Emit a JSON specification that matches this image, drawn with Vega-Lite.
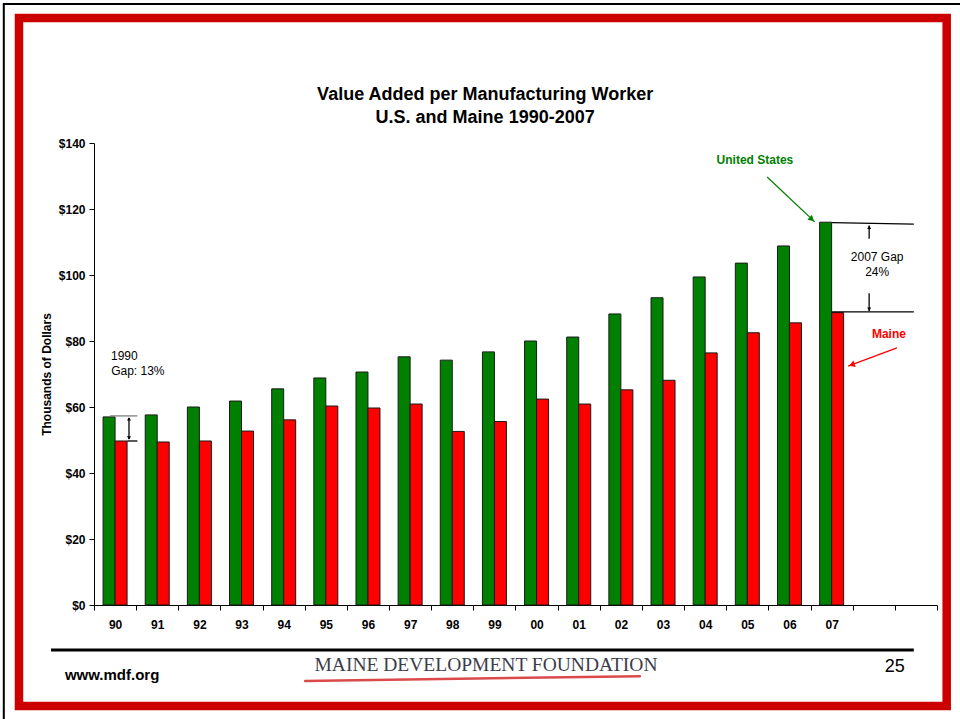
{
  "$schema": "https://vega.github.io/schema/vega-lite/v6.json",
  "width": 843,
  "height": 462,
  "autosize": {"type": "none"},
  "padding": {"left": 94, "top": 143, "right": 23, "bottom": 114},
  "background": "white",
  "config": {
    "view": {"stroke": null},
    "font": "Liberation Sans, Arial, sans-serif",
    "axis": {"domainColor": "black", "tickColor": "black", "labelColor": "black", "titleColor": "black", "grid": false}
  },
  "datasets": {
    "bars": [
      {"year": "90", "series": "United States", "value": 57.0},
      {"year": "90", "series": "Maine", "value": 49.7},
      {"year": "91", "series": "United States", "value": 57.6},
      {"year": "91", "series": "Maine", "value": 49.4},
      {"year": "92", "series": "United States", "value": 60.0},
      {"year": "92", "series": "Maine", "value": 49.7},
      {"year": "93", "series": "United States", "value": 61.8},
      {"year": "93", "series": "Maine", "value": 52.7},
      {"year": "94", "series": "United States", "value": 65.5},
      {"year": "94", "series": "Maine", "value": 56.1},
      {"year": "95", "series": "United States", "value": 68.8},
      {"year": "95", "series": "Maine", "value": 60.3},
      {"year": "96", "series": "United States", "value": 70.6},
      {"year": "96", "series": "Maine", "value": 59.7},
      {"year": "97", "series": "United States", "value": 75.2},
      {"year": "97", "series": "Maine", "value": 60.9},
      {"year": "98", "series": "United States", "value": 74.2},
      {"year": "98", "series": "Maine", "value": 52.6},
      {"year": "99", "series": "United States", "value": 76.7},
      {"year": "99", "series": "Maine", "value": 55.6},
      {"year": "00", "series": "United States", "value": 80.0},
      {"year": "00", "series": "Maine", "value": 62.4},
      {"year": "01", "series": "United States", "value": 81.2},
      {"year": "01", "series": "Maine", "value": 60.9},
      {"year": "02", "series": "United States", "value": 88.2},
      {"year": "02", "series": "Maine", "value": 65.2},
      {"year": "03", "series": "United States", "value": 93.1},
      {"year": "03", "series": "Maine", "value": 68.1},
      {"year": "04", "series": "United States", "value": 99.4},
      {"year": "04", "series": "Maine", "value": 76.4},
      {"year": "05", "series": "United States", "value": 103.6},
      {"year": "05", "series": "Maine", "value": 82.5},
      {"year": "06", "series": "United States", "value": 108.8},
      {"year": "06", "series": "Maine", "value": 85.5},
      {"year": "07", "series": "United States", "value": 116.0},
      {"year": "07", "series": "Maine", "value": 88.6}
    ],
    "rules": [
      {"v": 15.97, "v2": 17.1, "y": 129.7, "y2": 116.1, "series": "United States"},
      {"v": 19.05, "v2": 17.89, "y": 77.9, "y2": 72.4, "series": "Maine"},
      {"v": 17.51, "v2": 19.45, "y": 115.9, "y2": 115.4, "series": "Gap"},
      {"v": 17.51, "v2": 19.45, "y": 88.8, "y2": 88.8, "series": "Gap"},
      {"v": 18.39, "v2": 18.39, "y": 115.0, "y2": 111.0, "series": "Gap"},
      {"v": 18.39, "v2": 18.39, "y": 94.5, "y2": 89.1, "series": "Gap"},
      {"v": 0.38, "v2": 1.03, "y": 57.3, "y2": 57.3, "series": "Guide"},
      {"v": 0.79, "v2": 1.03, "y": 49.7, "y2": 49.7, "series": "Gap"},
      {"v": 0.83, "v2": 0.83, "y": 56.7, "y2": 50.3, "series": "Gap"}
    ],
    "heads": [
      {"v": 17.03, "y": 116.9, "series": "United States", "head": "us"},
      {"v": 17.98, "y": 72.8, "series": "Maine", "head": "maine"},
      {"v": 18.39, "y": 114.5, "series": "Gap", "head": "up"},
      {"v": 18.39, "y": 89.6, "series": "Gap", "head": "down"},
      {"v": 0.83, "y": 56.4, "series": "Gap", "head": "up"},
      {"v": 0.83, "y": 50.6, "series": "Gap", "head": "down"}
    ],
    "notes": [
      {"v": 15.68, "y": 134.8, "label": "United States", "series": "United States", "role": "bold"},
      {"v": 18.86, "y": 82.1, "label": "Maine", "series": "Maine", "role": "bold"},
      {"v": 18.58, "y": 105.5, "label": "2007 Gap", "series": "Gap", "role": "normal"},
      {"v": 18.58, "y": 100.9, "label": "24%", "series": "Gap", "role": "normal"},
      {"v": 0.72, "y": 75.5, "label": "1990", "series": "Gap", "role": "normal"},
      {"v": 1.04, "y": 70.9, "label": "Gap: 13%", "series": "Gap", "role": "normal"}
    ],
    "titles": [
      {"v": 9.28, "y": 153.0, "label": "Value Added per Manufacturing Worker"},
      {"v": 9.28, "y": 146.0, "label": "U.S. and Maine 1990-2007"}
    ],
    "footer": [
      {"v": 0.43, "y": -21.2, "label": "www.mdf.org", "role": "url"},
      {"v": 9.3, "y": -18.2, "label": "MAINE DEVELOPMENT FOUNDATION", "role": "logo"},
      {"v": 19.0, "y": -18.8, "label": "25", "role": "page"}
    ],
    "frames": [
      {"v": -1.78, "v2": 20.23, "y": 177.9, "y2": -30.6, "role": "red"},
      {"v": -2.14, "v2": 24, "y": 182.1, "y2": -45, "role": "black"}
    ],
    "footlines": [
      {"v": -1.02, "v2": 19.45, "y": -13.6, "y2": -13.6, "role": "line"},
      {"v": 5.01, "v2": 12.95, "y": -23.0, "y2": -21.6, "role": "swoosh"}
    ]
  },
  "resolve": {"scale": {"x": "independent", "y": "independent"}, "axis": {"x": "independent", "y": "independent"}},
  "layer": [
    {
      "data": {"name": "bars"},
      "mark": {"type": "bar", "stroke": "#1a1a1a", "strokeWidth": 1},
      "encoding": {
        "x": {
          "field": "year", "type": "nominal", "sort": null,
          "scale": {"domain": ["90","91","92","93","94","95","96","97","98","99","00","01","02","03","04","05","06","07","x1","x2"], "paddingInner": 0, "paddingOuter": 0},
          "axis": {"title": null, "labelAngle": 0, "labelExpr": "indexof(datum.label, 'x') >= 0 ? '' : datum.label", "tickBand": "extent", "tickSize": 5, "labelPadding": 9, "labelFontSize": 12, "labelFontWeight": "bold", "labelFont": "Liberation Sans, Arial, sans-serif"}
        },
        "xOffset": {"field": "series", "type": "nominal", "sort": null, "scale": {"domain": ["United States", "Maine"], "paddingInner": 0, "paddingOuter": 0.756}},
        "y": {
          "field": "value", "type": "quantitative",
          "scale": {"domain": [0, 140], "nice": false},
          "axis": {"title": "Thousands of Dollars", "values": [0, 20, 40, 60, 80, 100, 120, 140], "labelExpr": "'$' + datum.value", "tickSize": 5, "labelPadding": 4, "labelFontSize": 12, "labelFontWeight": "bold", "titleFontSize": 12, "titleFontWeight": "bold", "titlePadding": 5, "labelFont": "Liberation Sans, Arial, sans-serif", "titleFont": "Liberation Sans, Arial, sans-serif"}
        },
        "color": {"field": "series", "type": "nominal", "scale": {"domain": ["United States", "Maine", "Gap", "Guide"], "range": ["#008000", "#ff0000", "#000000", "#808080"]}, "legend": null}
      }
    },
    {
      "data": {"name": "titles"},
      "mark": {"type": "text", "fontSize": 18, "fontWeight": "bold", "font": "Liberation Sans, Arial, sans-serif", "align": "center", "baseline": "alphabetic", "color": "black"},
      "encoding": {
        "x": {"field": "v", "type": "quantitative", "scale": {"domain": [0, 20], "nice": false, "zero": false}, "axis": null},
        "y": {"field": "y", "type": "quantitative", "scale": {"domain": [0, 140], "nice": false}, "axis": null},
        "text": {"field": "label"}
      }
    },
    {
      "data": {"name": "rules"},
      "mark": {"type": "rule", "strokeWidth": 1.3},
      "encoding": {
        "x": {"field": "v", "type": "quantitative", "scale": {"domain": [0, 20], "nice": false, "zero": false}, "axis": null},
        "x2": {"field": "v2"},
        "y": {"field": "y", "type": "quantitative", "scale": {"domain": [0, 140], "nice": false}, "axis": null},
        "y2": {"field": "y2"},
        "color": {"field": "series", "type": "nominal", "scale": {"domain": ["United States", "Maine", "Gap", "Guide"], "range": ["#008000", "#ff0000", "#000000", "#808080"]}, "legend": null}
      }
    },
    {
      "data": {"name": "heads"},
      "transform": [{"filter": "datum.head == 'up'"}],
      "mark": {"type": "point", "shape": "triangle-up", "filled": true, "size": 16, "opacity": 1},
      "encoding": {
        "x": {"field": "v", "type": "quantitative", "scale": {"domain": [0, 20], "nice": false, "zero": false}, "axis": null},
        "y": {"field": "y", "type": "quantitative", "scale": {"domain": [0, 140], "nice": false}, "axis": null},
        "color": {"field": "series", "type": "nominal", "scale": {"domain": ["United States", "Maine", "Gap", "Guide"], "range": ["#008000", "#ff0000", "#000000", "#808080"]}, "legend": null}
      }
    },
    {
      "data": {"name": "heads"},
      "transform": [{"filter": "datum.head == 'down'"}],
      "mark": {"type": "point", "shape": "triangle-down", "filled": true, "size": 16, "opacity": 1},
      "encoding": {
        "x": {"field": "v", "type": "quantitative", "scale": {"domain": [0, 20], "nice": false, "zero": false}, "axis": null},
        "y": {"field": "y", "type": "quantitative", "scale": {"domain": [0, 140], "nice": false}, "axis": null},
        "color": {"field": "series", "type": "nominal", "scale": {"domain": ["United States", "Maine", "Gap", "Guide"], "range": ["#008000", "#ff0000", "#000000", "#808080"]}, "legend": null}
      }
    },
    {
      "data": {"name": "heads"},
      "transform": [{"filter": "datum.head == 'us'"}],
      "mark": {"type": "point", "shape": "triangle-right", "filled": true, "size": 45, "angle": 42, "opacity": 1},
      "encoding": {
        "x": {"field": "v", "type": "quantitative", "scale": {"domain": [0, 20], "nice": false, "zero": false}, "axis": null},
        "y": {"field": "y", "type": "quantitative", "scale": {"domain": [0, 140], "nice": false}, "axis": null},
        "color": {"field": "series", "type": "nominal", "scale": {"domain": ["United States", "Maine", "Gap", "Guide"], "range": ["#008000", "#ff0000", "#000000", "#808080"]}, "legend": null}
      }
    },
    {
      "data": {"name": "heads"},
      "transform": [{"filter": "datum.head == 'maine'"}],
      "mark": {"type": "point", "shape": "triangle-right", "filled": true, "size": 45, "angle": 160, "opacity": 1},
      "encoding": {
        "x": {"field": "v", "type": "quantitative", "scale": {"domain": [0, 20], "nice": false, "zero": false}, "axis": null},
        "y": {"field": "y", "type": "quantitative", "scale": {"domain": [0, 140], "nice": false}, "axis": null},
        "color": {"field": "series", "type": "nominal", "scale": {"domain": ["United States", "Maine", "Gap", "Guide"], "range": ["#008000", "#ff0000", "#000000", "#808080"]}, "legend": null}
      }
    },
    {
      "data": {"name": "notes"},
      "transform": [{"filter": "datum.role == 'bold'"}],
      "mark": {"type": "text", "fontSize": 12, "fontWeight": "bold", "font": "Liberation Sans, Arial, sans-serif", "align": "center", "baseline": "middle"},
      "encoding": {
        "x": {"field": "v", "type": "quantitative", "scale": {"domain": [0, 20], "nice": false, "zero": false}, "axis": null},
        "y": {"field": "y", "type": "quantitative", "scale": {"domain": [0, 140], "nice": false}, "axis": null},
        "text": {"field": "label"},
        "color": {"field": "series", "type": "nominal", "scale": {"domain": ["United States", "Maine", "Gap", "Guide"], "range": ["#008000", "#ff0000", "#000000", "#808080"]}, "legend": null}
      }
    },
    {
      "data": {"name": "notes"},
      "transform": [{"filter": "datum.role == 'normal'"}],
      "mark": {"type": "text", "fontSize": 12, "font": "Liberation Sans, Arial, sans-serif", "align": "center", "baseline": "middle"},
      "encoding": {
        "x": {"field": "v", "type": "quantitative", "scale": {"domain": [0, 20], "nice": false, "zero": false}, "axis": null},
        "y": {"field": "y", "type": "quantitative", "scale": {"domain": [0, 140], "nice": false}, "axis": null},
        "text": {"field": "label"},
        "color": {"field": "series", "type": "nominal", "scale": {"domain": ["United States", "Maine", "Gap", "Guide"], "range": ["#008000", "#ff0000", "#000000", "#808080"]}, "legend": null}
      }
    },
    {
      "data": {"name": "footlines"},
      "transform": [{"filter": "datum.role == 'line'"}],
      "mark": {"type": "rule", "color": "black", "strokeWidth": 3},
      "encoding": {
        "x": {"field": "v", "type": "quantitative", "scale": {"domain": [0, 20], "nice": false, "zero": false}, "axis": null},
        "x2": {"field": "v2"},
        "y": {"field": "y", "type": "quantitative", "scale": {"domain": [0, 140], "nice": false}, "axis": null},
        "y2": {"field": "y2"}
      }
    },
    {
      "data": {"name": "footlines"},
      "transform": [{"filter": "datum.role == 'swoosh'"}],
      "mark": {"type": "rule", "color": "#d42a2a", "strokeWidth": 2.5, "strokeCap": "round", "opacity": 0.85},
      "encoding": {
        "x": {"field": "v", "type": "quantitative", "scale": {"domain": [0, 20], "nice": false, "zero": false}, "axis": null},
        "x2": {"field": "v2"},
        "y": {"field": "y", "type": "quantitative", "scale": {"domain": [0, 140], "nice": false}, "axis": null},
        "y2": {"field": "y2"}
      }
    },
    {
      "data": {"name": "footer"},
      "transform": [{"filter": "datum.role == 'url'"}],
      "mark": {"type": "text", "fontSize": 15, "fontWeight": "bold", "font": "Liberation Sans, Arial, sans-serif", "align": "center", "baseline": "middle", "color": "black"},
      "encoding": {
        "x": {"field": "v", "type": "quantitative", "scale": {"domain": [0, 20], "nice": false, "zero": false}, "axis": null},
        "y": {"field": "y", "type": "quantitative", "scale": {"domain": [0, 140], "nice": false}, "axis": null},
        "text": {"field": "label"}
      }
    },
    {
      "data": {"name": "footer"},
      "transform": [{"filter": "datum.role == 'logo'"}],
      "mark": {"type": "text", "fontSize": 19.5, "font": "Liberation Serif, Times New Roman, serif", "align": "center", "baseline": "middle", "color": "#3c3c4a"},
      "encoding": {
        "x": {"field": "v", "type": "quantitative", "scale": {"domain": [0, 20], "nice": false, "zero": false}, "axis": null},
        "y": {"field": "y", "type": "quantitative", "scale": {"domain": [0, 140], "nice": false}, "axis": null},
        "text": {"field": "label"}
      }
    },
    {
      "data": {"name": "footer"},
      "transform": [{"filter": "datum.role == 'page'"}],
      "mark": {"type": "text", "fontSize": 18, "font": "Liberation Sans, Arial, sans-serif", "align": "center", "baseline": "middle", "color": "black"},
      "encoding": {
        "x": {"field": "v", "type": "quantitative", "scale": {"domain": [0, 20], "nice": false, "zero": false}, "axis": null},
        "y": {"field": "y", "type": "quantitative", "scale": {"domain": [0, 140], "nice": false}, "axis": null},
        "text": {"field": "label"}
      }
    },
    {
      "data": {"name": "frames"},
      "transform": [{"filter": "datum.role == 'red'"}],
      "mark": {"type": "rect", "filled": false, "color": "#cc0000", "strokeWidth": 8.5, "opacity": 1},
      "encoding": {
        "x": {"field": "v", "type": "quantitative", "scale": {"domain": [0, 20], "nice": false, "zero": false}, "axis": null},
        "x2": {"field": "v2"},
        "y": {"field": "y", "type": "quantitative", "scale": {"domain": [0, 140], "nice": false}, "axis": null},
        "y2": {"field": "y2"}
      }
    },
    {
      "data": {"name": "frames"},
      "transform": [{"filter": "datum.role == 'black'"}],
      "mark": {"type": "rect", "filled": false, "color": "black", "strokeWidth": 2, "opacity": 1},
      "encoding": {
        "x": {"field": "v", "type": "quantitative", "scale": {"domain": [0, 20], "nice": false, "zero": false}, "axis": null},
        "x2": {"field": "v2"},
        "y": {"field": "y", "type": "quantitative", "scale": {"domain": [0, 140], "nice": false}, "axis": null},
        "y2": {"field": "y2"}
      }
    }
  ]
}
